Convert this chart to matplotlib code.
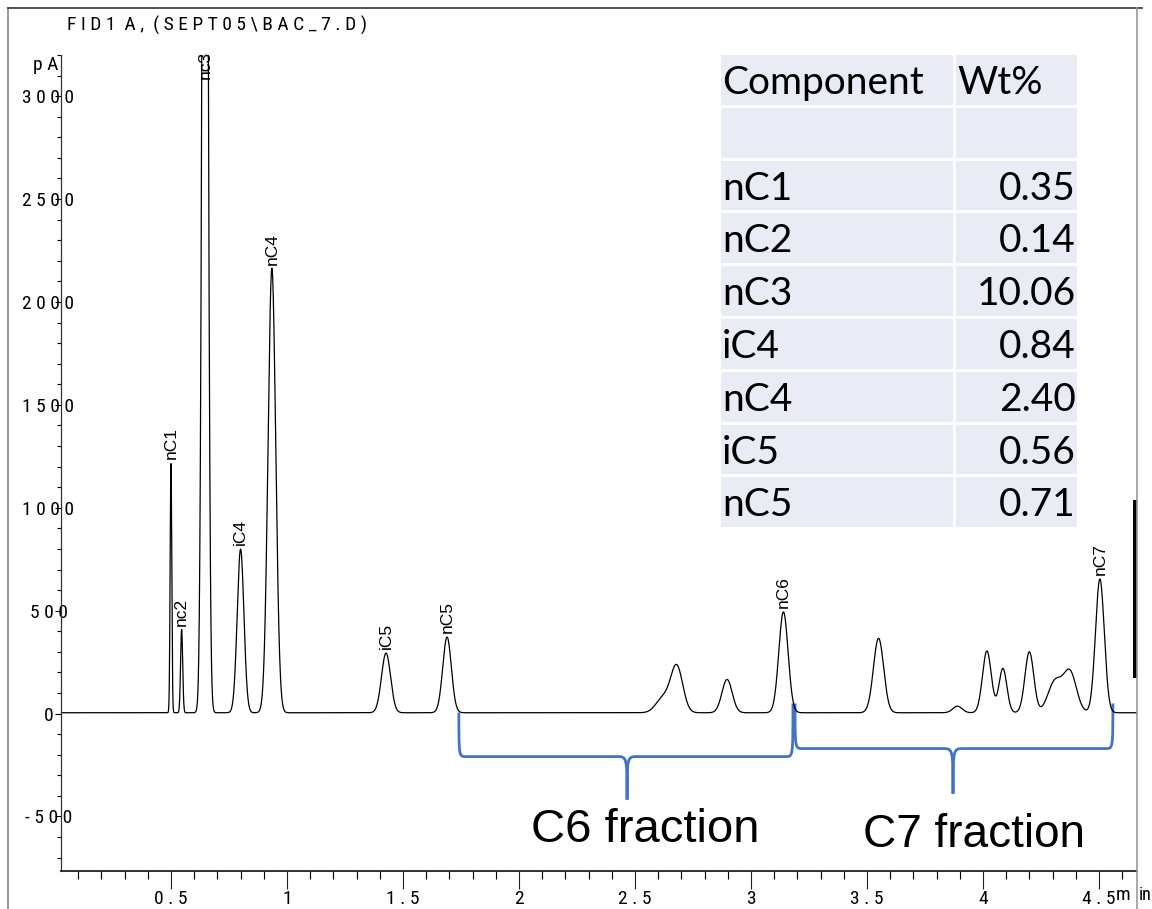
import numpy as np
import matplotlib
matplotlib.use("Agg")
import matplotlib.pyplot as plt
from matplotlib.path import Path
from matplotlib.patches import PathPatch, Rectangle
from matplotlib.lines import Line2D
from matplotlib import font_manager

# ---------------- data ----------------
peak_times   = [0.500, 0.546, 0.647, 0.800, 0.935, 1.427, 1.690,
                2.620, 2.680, 2.897, 3.140, 3.550, 3.890,
                4.017, 4.086, 4.200, 4.310, 4.375, 4.504]
peak_heights = [1215, 405, 8000, 795, 2160, 290, 368,
                70, 225, 162, 490, 362, 32,
                300, 215, 296, 150, 195, 650]
peak_sigmas  = [0.0035, 0.0045, 0.0105, 0.0145, 0.0165, 0.0195, 0.0185,
                0.030, 0.026, 0.022, 0.020, 0.022, 0.020,
                0.019, 0.017, 0.019, 0.030, 0.028, 0.019]
baseline_pA = 4

peak_labels   = ["nC1", "nc2", "nc3", "iC4", "nC4", "iC5", "nC5", "nC6", "nC7"]
label_times   = [0.500, 0.546, 0.647, 0.800, 0.935, 1.427, 1.690, 3.140, 4.504]
label_heights = [1215, 405, 3060, 795, 2160, 290, 368, 490, 650]

ytick_vals   = [-500, 0, 500, 1000, 1500, 2000, 2500, 3000]
ytick_labels = ["- 5 0 0", "0", "5 0 0", "1 0 0 0", "1 5 0 0", "2 0 0 0", "2 5 0 0", "3 0 0 0"]
xtick_vals   = [0.5, 1.0, 1.5, 2.0, 2.5, 3.0, 3.5, 4.0, 4.5]
xtick_labels = ["0 . 5", "1", "1 . 5", "2", "2 . 5", "3", "3 . 5", "4", "4 . 5"]

components = ["nC1", "nC2", "nC3", "iC4", "nC4", "iC5", "nC5"]
wt_pct     = ["0.35", "0.14", "10.06", "0.84", "2.40", "0.56", "0.71"]

fraction_names  = ["C6 fraction", "C7 fraction"]
fraction_start  = [1.741, 3.190]
fraction_end    = [3.181, 4.560]
fraction_tip    = [2.466, 3.871]

# ---------------- figure ----------------
W, H = 1152, 909
fig = plt.figure(figsize=(W / 100, H / 100), dpi=100)

def fx(px):
    return px / W

def fy(py):
    return 1 - py / H

available = {f.name for f in font_manager.fontManager.ttflist}
narrow = [f for f in ["Liberation Sans Narrow", "DejaVu Sans Condensed", "Roboto Condensed"]
          if f in available] + ["Liberation Sans", "DejaVu Sans"]
nsize = 14

ax_l, ax_r, ax_t, ax_b = 61, 1137, 55, 871
ax = fig.add_axes([fx(ax_l), fy(ax_b), fx(ax_r) - fx(ax_l), fy(ax_t) - fy(ax_b)])
ax.set_xlim(0.026, 4.664)
ax.set_ylim(-765, 3200)

t = np.linspace(0.026, 4.664, 8000)
sig = np.full_like(t, baseline_pA, dtype=float)
for tc, h, s in zip(peak_times, peak_heights, peak_sigmas):
    sig += h * np.exp(-0.5 * ((t - tc) / s) ** 2)
ax.plot(t, sig, color="black", lw=0.9)

for name, tx, hy in zip(peak_labels, label_times, label_heights):
    ax.text(tx, hy + 22, name, rotation=90, ha="center", va="bottom",
            fontsize=12.5, family="Liberation Sans", clip_on=False)

for s in ["top", "right"]:
    ax.spines[s].set_visible(False)
ax.spines["left"].set_color("#333333")
ax.spines["bottom"].set_color("#222222")
ax.spines["left"].set_linewidth(0.9)
ax.spines["bottom"].set_linewidth(1.3)

ax.set_yticks(ytick_vals)
ax.set_yticklabels(ytick_labels, family=narrow, fontsize=nsize, ha="center")
ax.set_yticks(np.arange(-700, 3201, 100), minor=True)
ax.tick_params(axis="y", which="major", length=4, width=0.8, pad=5, direction="out")
ax.tick_params(axis="y", which="minor", length=3, width=0.8, direction="out")

ax.set_xticks(xtick_vals)
ax.set_xticklabels(xtick_labels, family=narrow, fontsize=nsize)
ax.set_xticks(np.arange(0.1, 4.65, 0.1), minor=True)
ax.tick_params(axis="x", which="major", length=13, width=0.8, pad=1, direction="out", colors="#222222")
ax.tick_params(axis="x", which="minor", length=6, width=0.8, direction="out")
ax.tick_params(axis="x", which="major", labelcolor="black")

# braces
brace_color = "#4472C4"
for i, (x0, x1, tip) in enumerate(zip(fraction_start, fraction_end, fraction_tip)):
    yh = -209 if i == 0 else -170
    ybot = -418 if i == 0 else -390
    ytop1 = 5 if i == 0 else 49
    ytop2 = 49
    dx = 0.03
    dt = 0.045
    verts = [(x0, ytop1),
             (x0, yh), (x0, yh), (x0 + dx, yh),
             (tip - dt, yh),
             (tip, yh), (tip, yh), (tip, ybot),
             (tip, yh), (tip, yh), (tip + dt, yh),
             (x1 - dx, yh),
             (x1, yh), (x1, yh), (x1, ytop2)]
    codes = [Path.MOVETO,
             Path.CURVE4, Path.CURVE4, Path.CURVE4,
             Path.LINETO,
             Path.CURVE4, Path.CURVE4, Path.CURVE4,
             Path.CURVE4, Path.CURVE4, Path.CURVE4,
             Path.LINETO,
             Path.CURVE4, Path.CURVE4, Path.CURVE4]
    ax.add_patch(PathPatch(Path(verts, codes), facecolor="none", edgecolor=brace_color,
                           lw=2.0, clip_on=False))

fig.text(fx(645), fy(830), fraction_names[0], fontsize=34, family="Liberation Sans",
         ha="center", va="center")
fig.text(fx(974), fy(835), fraction_names[1], fontsize=33, family="Liberation Sans",
         ha="center", va="center")

# header texts
fig.text(fx(67), fy(25), "F I D 1  A ,  ( S E P T 0 5 \\ B A C _ 7 . D )", family=narrow,
         fontsize=14, ha="left", va="center")
fig.text(fx(46), fy(65), "p A", family=narrow, fontsize=nsize, ha="center", va="center")
fig.text(fx(1116), fy(895), "m", family=narrow, fontsize=nsize, ha="left", va="center")
fig.text(fx(1139), fy(895), "in", family=narrow, fontsize=nsize - 1, ha="left", va="center")

# outer frame
fig.add_artist(Line2D([fx(8), fx(8)], [fy(8), fy(909)], color="#888888", lw=1.2))
fig.add_artist(Line2D([fx(8), fx(1142)], [fy(8), fy(8)], color="#333333", lw=1.2))
fig.add_artist(Line2D([fx(1137), fx(1137)], [fy(8), fy(909)], color="#999999", lw=1.2))
fig.add_artist(Rectangle((fx(1133), fy(678)), fx(3.5), fy(500) - fy(678),
                         transform=fig.transFigure, color="black", lw=0))

# table
tab_bg = "#E9EBF5"
tl, tmid, tr = 721, 954, 1077
row_top, pitch, gap = 55, 52.8, 3
tsize = 28
rows = [("Component", "Wt%"), ("", "")] + list(zip(components, wt_pct))
for r, (c1, c2) in enumerate(rows):
    y0 = row_top + r * pitch
    y1 = y0 + pitch - gap
    fig.add_artist(Rectangle((fx(tl), fy(y1)), fx(tmid - 1.5) - fx(tl), fy(y0) - fy(y1),
                             transform=fig.transFigure, color=tab_bg, lw=0))
    fig.add_artist(Rectangle((fx(tmid + 1.5), fy(y1)), fx(tr) - fx(tmid + 1.5), fy(y0) - fy(y1),
                             transform=fig.transFigure, color=tab_bg, lw=0))
    yc = (y0 + y1) / 2 + 3
    if c1:
        fig.text(fx(tl + 1), fy(yc), c1, family="Lato", fontsize=tsize, ha="left", va="center")
    if c2:
        if r == 0:
            fig.text(fx(tmid + 3), fy(yc), c2, family="Lato", fontsize=tsize, ha="left", va="center")
        else:
            fig.text(fx(tr - 1), fy(yc), c2, family="Lato", fontsize=tsize, ha="right", va="center")

fig.savefig("out.png", dpi=100)
